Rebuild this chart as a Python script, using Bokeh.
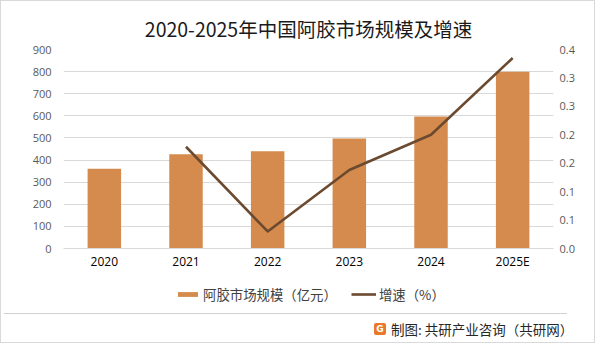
from bokeh.plotting import figure
from bokeh.layouts import column
from bokeh.models import (FactorRange, Range1d, LinearAxis, FixedTicker, Legend,
                          LegendItem, Div)
from bokeh.embed import file_html
from bokeh.resources import INLINE

categories = ["2020", "2021", "2022", "2023", "2024", "2025E"]
market_size = [361, 426, 440, 497, 597, 799]
growth_years = ["2021", "2022", "2023", "2024", "2025E"]
growth = [0.179, 0.030, 0.138, 0.200, 0.335]
left_ticks = [0, 100, 200, 300, 400, 500, 600, 700, 800, 900]
right_ticks = [0, 0.05, 0.1, 0.15, 0.2, 0.25, 0.3, 0.35]
right_tick_labels = ["0.0", "0.1", "0.1", "0.2", "0.2", "0.3", "0.3", "0.4"]

TITLE = "2020-2025年中国阿胶市场规模及增速"
BAR_LABEL = "阿胶市场规模（亿元）"
LINE_LABEL = "增速（%）"
SOURCE = "制图: 共研产业咨询（共研网）"

BAR_COLOR = "#D48B4D"
LINE_COLOR = "#6B4A2F"
GRID = "#D9D9D9"
FONT = "Noto Sans CJK SC"
NUM_FONT = "Open Sans"

W = 593
H1 = 279
H2 = 33
H3 = 29
BL, BR = 62, 41

# ---------------- main chart ----------------
p = figure(width=W, height=H1, x_range=FactorRange(*categories, range_padding=0),
           y_range=Range1d(0, 900), output_backend="svg", toolbar_location=None,
           min_border_left=BL, min_border_right=BR, min_border_top=48, min_border_bottom=32,
           background_fill_color="white", border_fill_color="white")
p.outline_line_color = None
p.extra_y_ranges = {"rate": Range1d(0, 0.35)}

p.title.text = TITLE
p.title.align = "center"
p.title.text_font = FONT
p.title.text_font_size = "19.5px"
p.title.text_font_style = "normal"
p.title.text_color = "#1A1A1A"
p.title.standoff = 14

bars = p.vbar(x=categories, top=market_size, width=0.41, color=BAR_COLOR, line_color=None)
line = p.line(x=growth_years, y=growth, y_range_name="rate", line_color=LINE_COLOR,
              line_width=2.6, line_join="round")

p.xaxis.axis_line_color = GRID
p.xaxis.major_tick_line_color = None
p.xaxis.minor_tick_line_color = None
p.xaxis.major_tick_out = 0
p.xaxis.major_label_text_font = NUM_FONT
p.xaxis.major_label_text_font_size = "12px"
p.xaxis.major_label_text_color = "#000000"
p.xaxis.major_label_standoff = 4

p.yaxis.ticker = FixedTicker(ticks=left_ticks)
p.yaxis.axis_line_color = None
p.yaxis.major_tick_line_color = None
p.yaxis.minor_tick_line_color = None
p.yaxis.major_tick_out = 0
p.yaxis.major_label_text_font = NUM_FONT
p.yaxis.major_label_text_font_size = "11px"
p.yaxis.major_label_text_color = "#595959"
p.yaxis.major_label_standoff = 12

ry = LinearAxis(y_range_name="rate", ticker=FixedTicker(ticks=right_ticks),
                major_label_overrides={t: l for t, l in zip(right_ticks, right_tick_labels)})
ry.axis_line_color = None
ry.major_tick_line_color = None
ry.minor_tick_line_color = None
ry.major_tick_out = 0
ry.major_label_text_font = NUM_FONT
ry.major_label_text_font_size = "11px"
ry.major_label_text_color = "#595959"
ry.major_label_standoff = 6
p.add_layout(ry, "right")

p.xgrid.grid_line_color = None
p.ygrid.grid_line_color = GRID
p.ygrid.grid_line_width = 1

# ---------------- legend strip ----------------
p2 = figure(width=W, height=H2, x_range=Range1d(0, 1), y_range=Range1d(0, 1),
            output_backend="svg", toolbar_location=None,
            x_axis_location=None, y_axis_location=None,
            min_border_left=BL, min_border_right=BR, min_border_top=0, min_border_bottom=0,
            background_fill_color="white", border_fill_color="white")
p2.grid.visible = False
p2.outline_line_color = None

# zero-size key glyphs (only used for the legend swatches)
bar_key = p2.vbar(x=[0], top=[0], width=0, color=BAR_COLOR, line_color=None)
line_key = p2.line(x=[0, 0], y=[0, 0], line_color=LINE_COLOR, line_width=2.6)

legend = Legend(items=[LegendItem(label=BAR_LABEL, renderers=[bar_key]),
                       LegendItem(label=LINE_LABEL, renderers=[line_key])],
                orientation="horizontal", location=(112, 9),
                label_text_font=FONT, label_text_font_size="13.4px", label_text_color="#404040",
                glyph_width=25, glyph_height=6, label_standoff=3, spacing=14,
                border_line_color=None, background_fill_alpha=0, margin=0, padding=0)
p2.add_layout(legend, "center")

# ---------------- separator + source ----------------
src_html = (
    '<div style="position:relative;width:%dpx;height:%dpx;">'
    '<div style="position:absolute;left:3px;top:0px;width:563px;height:0px;'
    'border-top:1.5px solid #D0D0D0;"></div>'
    '<span style="position:absolute;left:373px;top:10px;width:12px;height:12px;'
    'background:#E8782A;color:#fff;font-family:\'DejaVu Sans\';font-weight:bold;'
    'font-size:9px;line-height:12px;text-align:center;border-radius:2px;">G</span>'
    '<span style="position:absolute;left:390px;top:6px;font-family:\'Noto Sans CJK SC\';'
    'font-size:13.5px;line-height:20px;color:#262626;white-space:nowrap;">%s</span>'
    '</div>' % (W, H3, SOURCE)
)
src = Div(text=src_html, width=W, height=H3, margin=0)

layout = column(p, p2, src, spacing=0)
layout.styles = {"border": "1px solid #D9D9D9", "background-color": "white"}

open("out.html", "w").write(file_html(layout, INLINE))
